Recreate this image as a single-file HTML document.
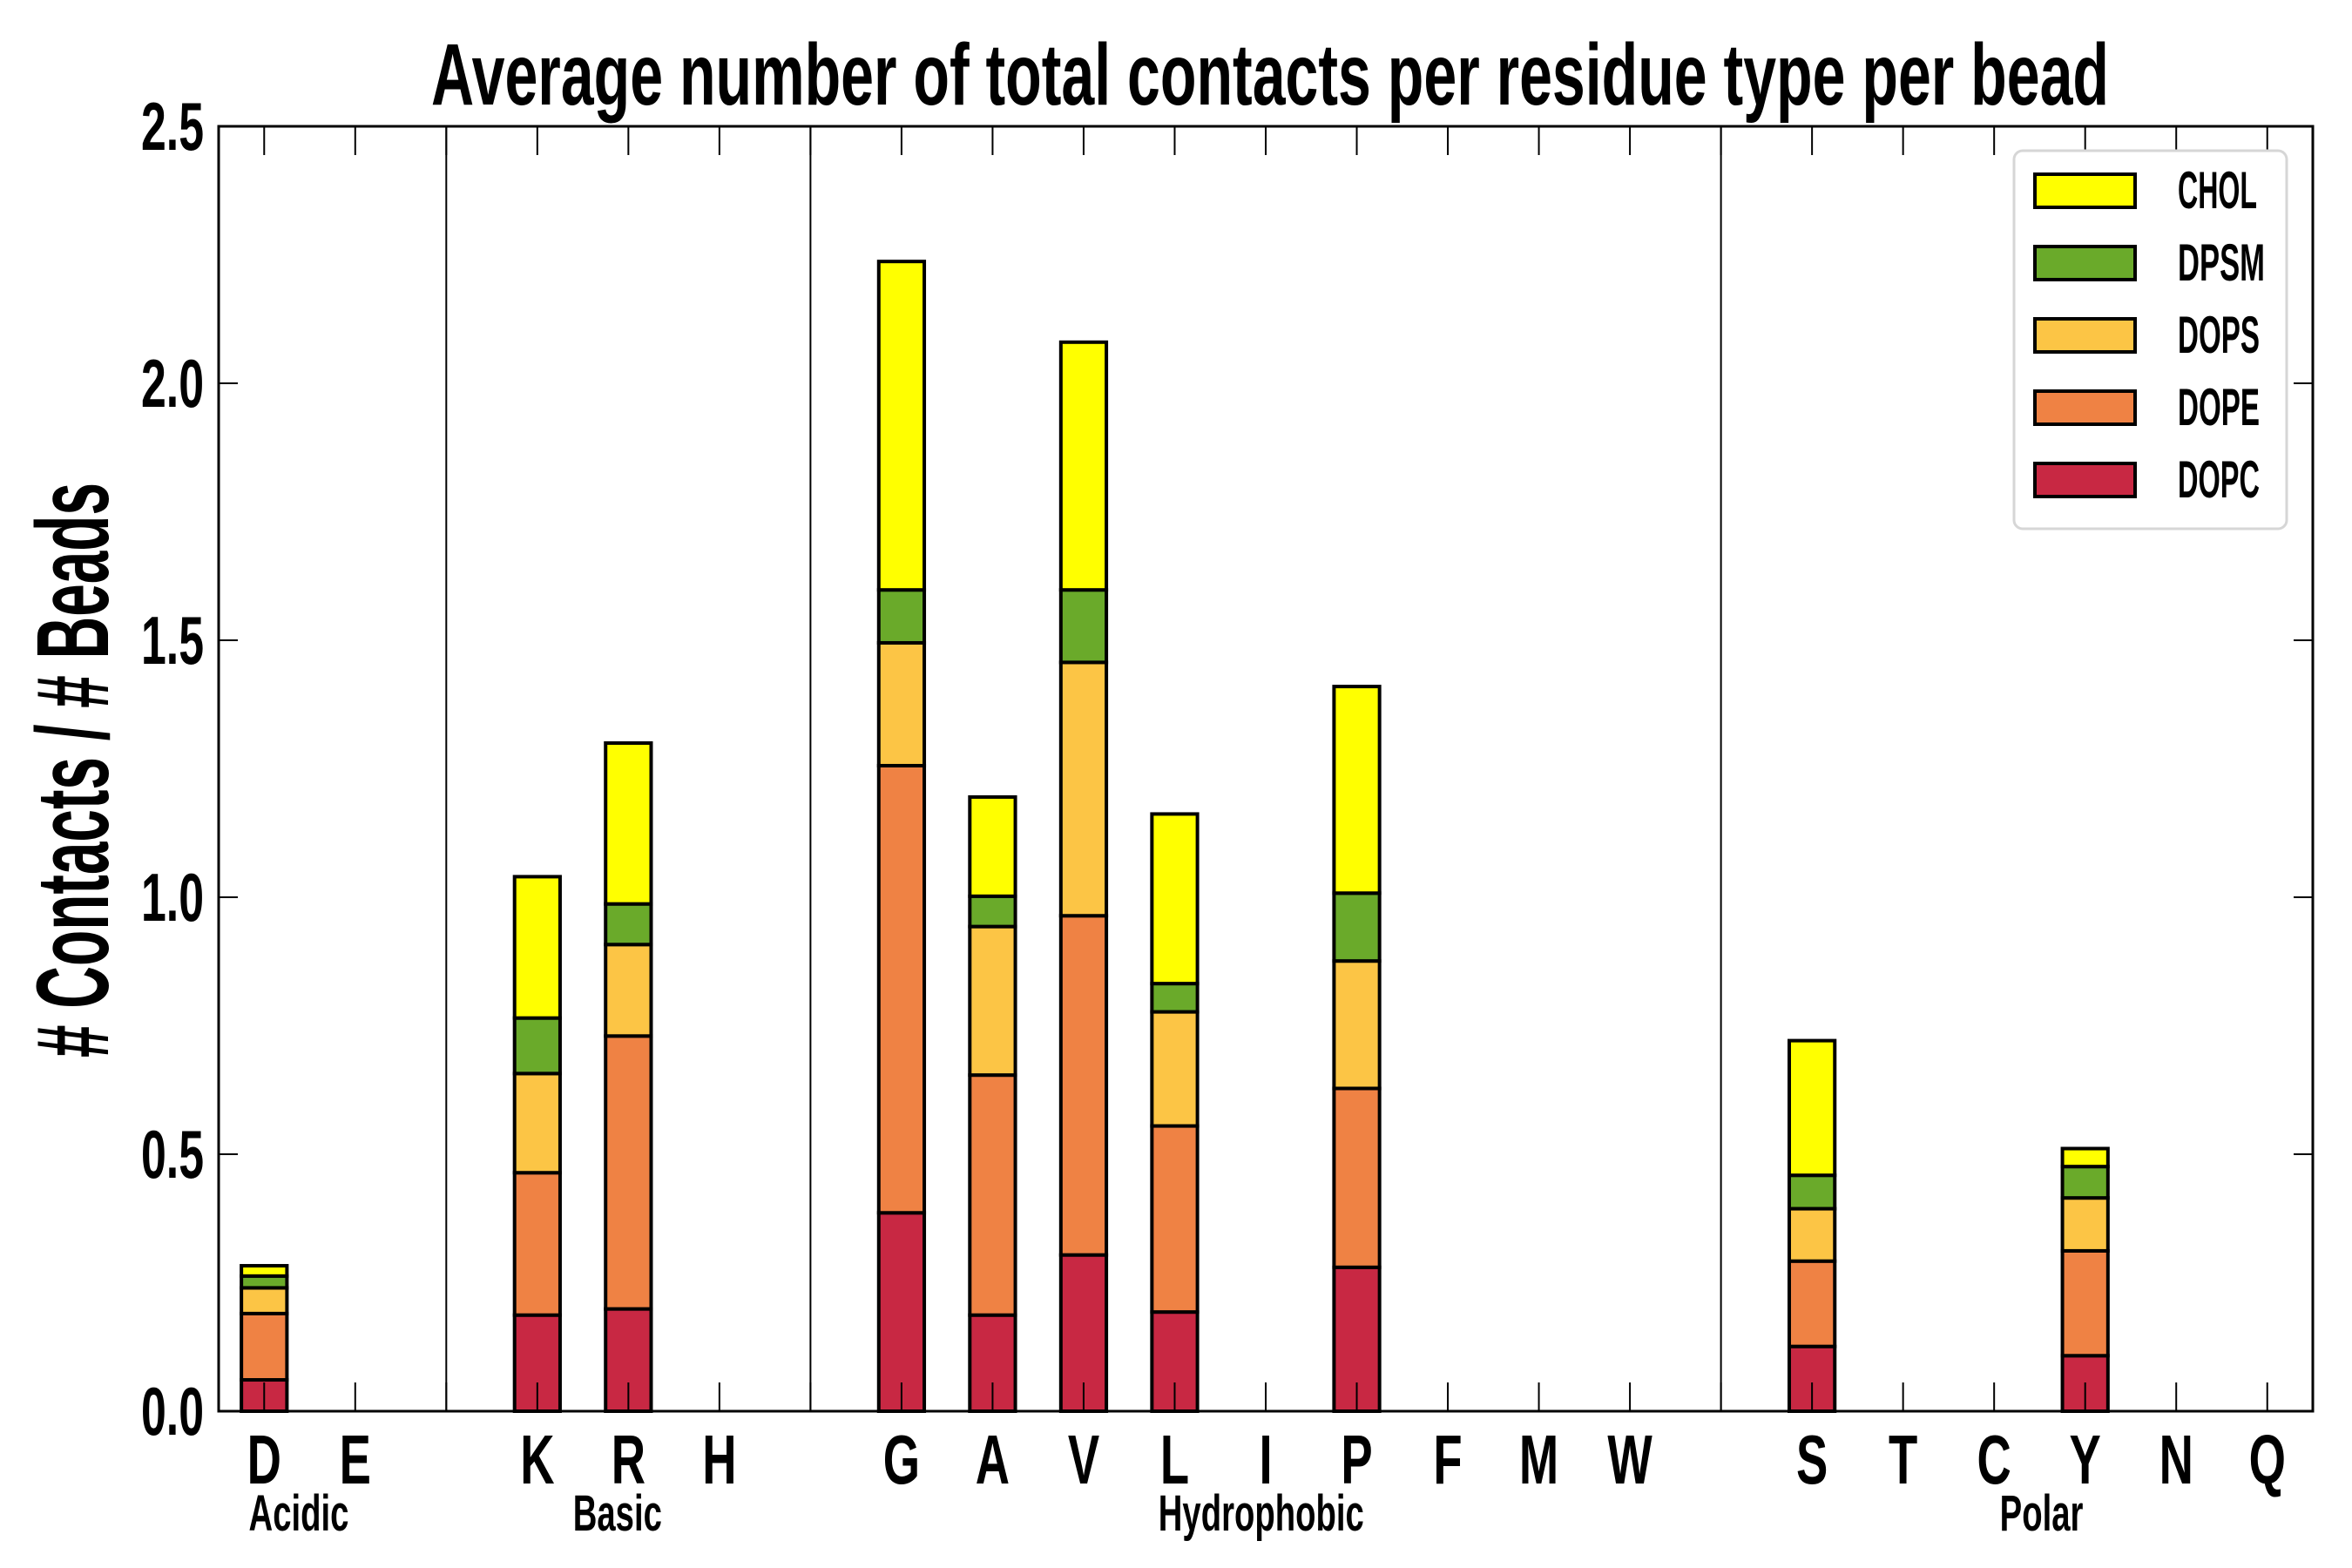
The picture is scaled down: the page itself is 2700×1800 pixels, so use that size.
<!DOCTYPE html>
<html><head><meta charset="utf-8"><style>
html,body{margin:0;padding:0;background:#fff;}
svg{display:block;}
text{font-family:"Liberation Sans Narrow","Liberation Sans",sans-serif;font-weight:bold;fill:#000;}
</style></head><body>
<svg id="chart" width="2700" height="1800" viewBox="0 0 2700 1800" xmlns="http://www.w3.org/2000/svg">
<g id="plot"></g>
</svg>
<script>
const categories = ["D","E","","K","R","H","","G","A","V","L","I","P","F","M","W","","S","T","C","Y","N","Q"];
const seriesNames = ["DOPC","DOPE","DOPS","DPSM","CHOL"];
const seriesColors = ["#c82843","#ef8244","#fcc545","#6aaa2a","#ffff00"];
const DOPC = [0.061,0,0,0.187,0.199,0,0,0.386,0.187,0.304,0.193,0,0.28,0,0,0,0,0.126,0,0,0.108,0,0];
const DOPE = [0.129,0,0,0.277,0.531,0,0,0.870,0.467,0.660,0.362,0,0.348,0,0,0,0,0.166,0,0,0.204,0,0];
const DOPS = [0.050,0,0,0.193,0.178,0,0,0.239,0.289,0.493,0.222,0,0.248,0,0,0,0,0.102,0,0,0.103,0,0];
const DPSM = [0.023,0,0,0.108,0.079,0,0,0.103,0.059,0.141,0.055,0,0.132,0,0,0,0,0.065,0,0,0.061,0,0];
const CHOL = [0.020,0,0,0.275,0.313,0,0,0.639,0.193,0.482,0.330,0,0.402,0,0,0,0,0.262,0,0,0.035,0,0];
const yTicks = [0.0,0.5,1.0,1.5,2.0,2.5];
const yTickLabels = ["0.0","0.5","1.0","1.5","2.0","2.5"];
const separators = [2,6,16];
const groupNames = ["Acidic","Basic","Hydrophobic","Polar"];
const groupCenters = [0.38,3.88,10.95,19.52];

const L=251,R=2655,T=145,B=1620;
const X = i => L + (i+0.5)*(R-L)/23;
const Y = v => B - v*(B-T)/2.5;
const barW = 0.5*(R-L)/23;
const NS="http://www.w3.org/2000/svg";
const g=document.getElementById('plot');
function mk(tag,attrs,parent){const e=document.createElementNS(NS,tag);for(const k in attrs)e.setAttribute(k,attrs[k]);(parent||g).appendChild(e);return e;}

separators.forEach(s=>{
  const l=mk('line',{x1:X(s),x2:X(s),y1:T,y2:B,stroke:'#000','stroke-width':2});
  
  
});
const series=[DOPC,DOPE,DOPS,DPSM,CHOL];
categories.forEach((c,i)=>{
  let base=0;
  series.forEach((s,k)=>{
    const v=s[i];
    const r=mk('rect',{x:X(i)-barW/2,y:Y(base+v),width:barW,height:Y(base)-Y(base+v),fill:seriesColors[k],stroke:'#000','stroke-width':4});
    
    
    base+=v;
  });
});
categories.forEach((c,i)=>{
  const t1=mk('line',{x1:X(i),x2:X(i),y1:B,y2:B-33,stroke:'#000','stroke-width':2});
  
  
  const t2=mk('line',{x1:X(i),x2:X(i),y1:T,y2:T+33,stroke:'#000','stroke-width':2});
  
  
  if(c){
    const t=mk('text',{x:0,y:0,'text-anchor':'middle','font-size':80,transform:'translate('+X(i)+',1703) scale(0.68,1)'});
    t.textContent=c;
    
    
  }
});
yTicks.forEach((v,i)=>{
  const a=mk('line',{x1:L,x2:L+22,y1:Y(v),y2:Y(v),stroke:'#000','stroke-width':2});
  
  
  const b=mk('line',{x1:R,x2:R-22,y1:Y(v),y2:Y(v),stroke:'#000','stroke-width':2});
  
  
  const t=mk('text',{x:234,y:Y(v)+27,'text-anchor':'end','font-size':78,textLength:72,lengthAdjust:'spacingAndGlyphs'});
  t.textContent=yTickLabels[i];
  
  
});
groupNames.forEach((n,i)=>{
  const t=mk('text',{x:0,y:0,'text-anchor':'middle','font-size':58,transform:'translate('+X(groupCenters[i])+',1757) scale(0.66,1)'});
  t.textContent=n;
  
  
});
const fr=mk('rect',{x:L,y:T,width:R-L,height:B-T,fill:'none',stroke:'#000','stroke-width':3});


const title=mk('text',{x:1458,y:120,'text-anchor':'middle','font-size':100,textLength:1926,lengthAdjust:'spacingAndGlyphs'});
title.textContent='Average number of total contacts per residue type per bead';


const yl=mk('text',{x:0,y:0,'text-anchor':'middle','font-size':118,textLength:660,lengthAdjust:'spacingAndGlyphs',transform:'translate(124,884) rotate(-90)'});
yl.textContent='# Contacts / # Beads';


const lg=mk('g',{});


const lb=mk('rect',{x:2312,y:173,width:313,height:434,rx:10,fill:'#fff',stroke:'#d6d6d6','stroke-width':3},lg);


const order=[4,3,2,1,0];
order.forEach((k,j)=>{
  const yy=200+j*83;
  const p=mk('rect',{x:2336,y:yy,width:115,height:38,fill:seriesColors[k],stroke:'#000','stroke-width':4},lg);
  
  
  const t=mk('text',{x:2500,y:yy+39,'font-size':60,textLength:seriesNames[k]==='CHOL'?91:(seriesNames[k]==='DPSM'?100:94),lengthAdjust:'spacingAndGlyphs'},lg);
  t.textContent=seriesNames[k];
  
  
});
</script>
</body></html>
